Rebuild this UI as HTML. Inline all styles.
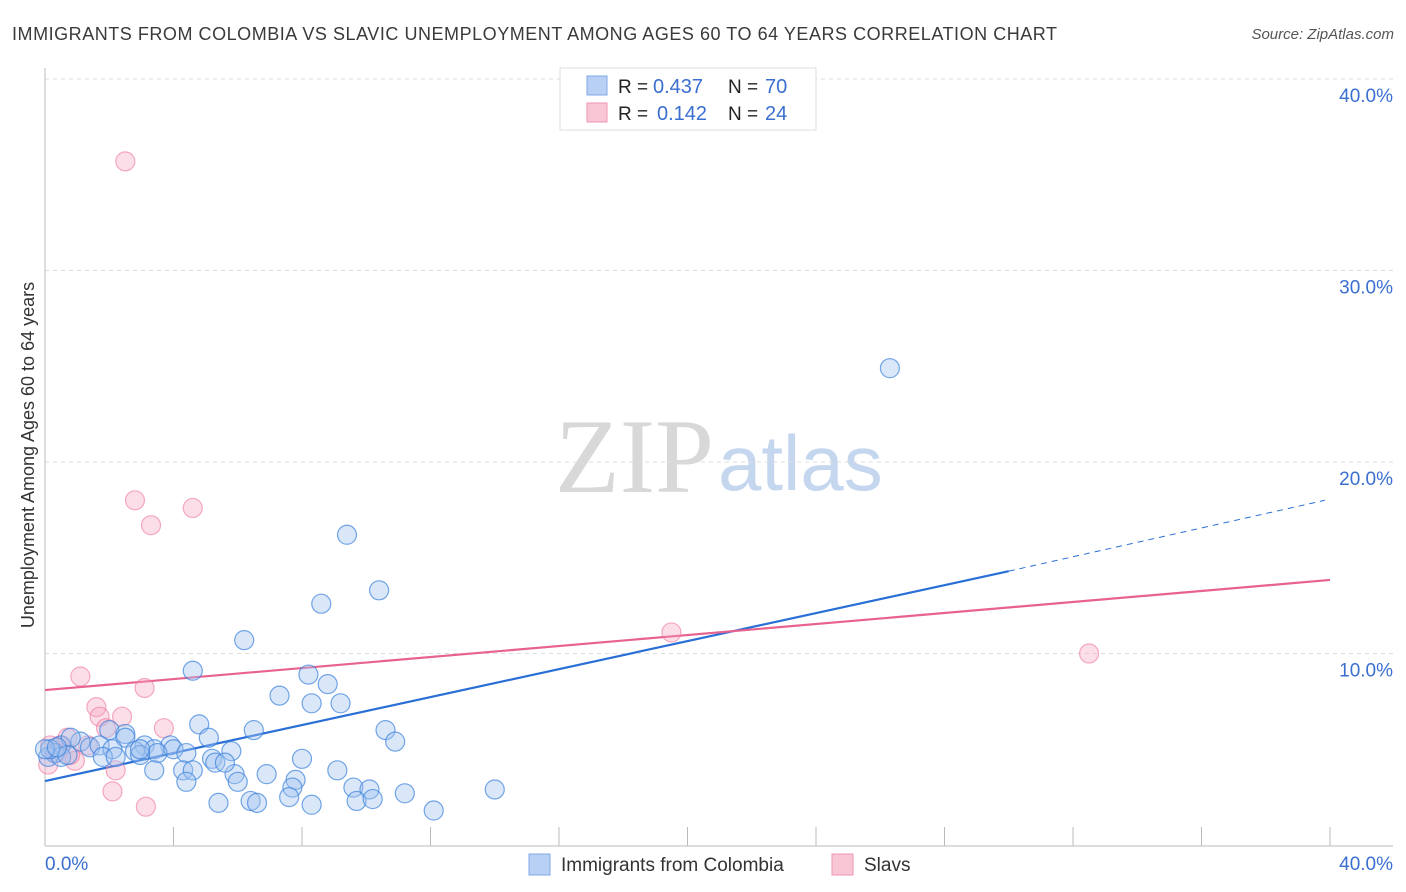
<!DOCTYPE html>
<html><head><meta charset="utf-8">
<style>
body{margin:0;background:#fff;font-family:"Liberation Sans",sans-serif;}
#wrap{position:relative;width:1406px;height:892px;overflow:hidden;}
</style></head>
<body>
<div id="wrap">
<svg id="chart" width="1406" height="892">
<text x="12" y="40" font-size="18" fill="#3a3a3a" textLength="1045">IMMIGRANTS FROM COLOMBIA VS SLAVIC UNEMPLOYMENT AMONG AGES 60 TO 64 YEARS CORRELATION CHART</text>
<text x="1394" y="39" font-size="15" fill="#555" text-anchor="end" font-style="italic">Source: ZipAtlas.com</text>
<text x="714" y="492" font-size="106" fill="#d8d8d8" text-anchor="end" font-family="Liberation Serif,serif">ZIP</text>
<text x="718" y="490" font-size="78" fill="#c5d6ef">atlas</text>
<text transform="translate(34,455) rotate(-90)" font-size="18" fill="#333" text-anchor="middle">Unemployment Among Ages 60 to 64 years</text>
<g id="grid"></g><g id="axes"></g><g id="lines"></g><g id="pts"></g>
<g>
<rect x="560" y="68" width="256" height="62" fill="#fff" stroke="#ddd"/>
<rect x="587" y="76" width="20" height="19" fill="#b7d0f3" stroke="#7fa8e6"/>
<rect x="587" y="103" width="20" height="19" fill="#f9c6d6" stroke="#f096b3"/>
<text x="618" y="93" font-size="19" fill="#222">R =</text>
<text x="653" y="93" font-size="20" fill="#3a6fd0">0.437</text>
<text x="728" y="93" font-size="19" fill="#222">N =</text>
<text x="765" y="93" font-size="20" fill="#3a6fd0">70</text>
<text x="618" y="120" font-size="19" fill="#222">R =</text>
<text x="657" y="120" font-size="20" fill="#3a6fd0">0.142</text>
<text x="728" y="120" font-size="19" fill="#222">N =</text>
<text x="765" y="120" font-size="20" fill="#3a6fd0">24</text>
</g>
<g>
<rect x="529" y="854" width="21" height="21" fill="#b7d0f3" stroke="#7fa8e6"/>
<text x="561" y="871" font-size="19" fill="#333">Immigrants from Colombia</text>
<rect x="832" y="854" width="21" height="21" fill="#f9c6d6" stroke="#f096b3"/>
<text x="864" y="871" font-size="19" fill="#333">Slavs</text>
</g>
</svg>
</div>
<script>
const xTicks=[0,4,8,12,16,20,24,28,32,36,40];
const yTicks=[10,20,30,40];
const blueX=[26.3,9.4,10.4,8.6,6.2,4.6,8.2,8.8,7.3,8.3,9.2,4.8,6.5,10.6,2.0,5.1,10.9,1.1,2.5,3.1,3.9,2.5,5.8,8.0,0.5,0.8,1.4,1.7,2.1,2.8,3.4,4.0,3.5,4.4,0.3,0.1,0.5,0.7,1.8,2.2,2.96,5.2,5.9,6.9,5.3,3.4,4.3,4.6,6.0,4.4,9.1,7.8,7.7,9.6,10.1,11.2,14.0,7.6,6.4,6.6,5.4,8.3,9.7,10.2,12.1,5.6,0.16,2.96,0,0.37];
const blueY=[24.9,16.2,13.3,12.6,10.7,9.1,8.9,8.4,7.8,7.4,7.4,6.3,6.0,6.0,6.0,5.6,5.4,5.4,5.8,5.2,5.2,5.6,4.9,4.5,5.2,5.6,5.1,5.2,5.0,4.9,5.0,5.0,4.8,4.8,4.8,4.6,4.6,4.7,4.6,4.6,4.7,4.5,3.7,3.7,4.3,3.9,3.9,3.9,3.3,3.3,3.9,3.4,3.0,3.0,2.9,2.7,2.9,2.5,2.3,2.2,2.2,2.1,2.3,2.4,1.8,4.3,5.0,5.0,5.0,5.1];
const pinkX=[2.5,2.8,4.6,3.3,19.5,32.5,1.1,3.1,1.6,2.4,1.7,3.7,1.9,0.7,0.16,0.34,0.47,0.93,2.2,2.1,3.14,0.1,1.34,0.78];
const pinkY=[35.7,18.0,17.6,16.7,11.1,10.0,8.8,8.2,7.2,6.7,6.7,6.1,6.1,5.6,5.2,4.8,5.2,4.4,3.9,2.8,2.0,4.2,5.2,4.7];
const blueTrend=[[0,3.34],[30,14.3],[39.84,18.0]];
const pinkTrend=[[0,8.09],[40,13.84]];
const X=v=>45+v*32.125, Y=v=>845-v*19.15;
const NS="http://www.w3.org/2000/svg";
function mk(t,a,p){const e=document.createElementNS(NS,t);for(const k in a)e.setAttribute(k,a[k]);p.appendChild(e);return e;}
const grid=document.getElementById('grid'),axes=document.getElementById('axes'),lines=document.getElementById('lines'),pts=document.getElementById('pts');
yTicks.forEach(v=>{
 const l=mk('line',{x1:45,x2:1393,y1:Y(v),y2:Y(v),stroke:'#ddd','stroke-dasharray':'4,4'},grid);
 
 
 const t=mk('text',{x:1393,y:Y(v)+23,'font-size':19,fill:'#3a6fd0','text-anchor':'end'},axes);t.textContent=v.toFixed(1)+'%';
 
 
});
const topLine=mk('line',{x1:45,x2:1393,y1:79,y2:79,stroke:'#ddd','stroke-dasharray':'4,4'},grid);


const ya=mk('line',{x1:45,x2:45,y1:68,y2:846,stroke:'#bbb'},axes);


const xa=mk('line',{x1:45,x2:1393,y1:846,y2:846,stroke:'#bbb'},axes);


xTicks.forEach(v=>{
 const l=mk('line',{x1:X(v),x2:X(v),y1:827,y2:846,stroke:'#bbb'},axes);
 
 
});
const xl0=mk('text',{x:45,y:870,'font-size':19,fill:'#3a6fd0'},axes);xl0.textContent='0.0%';


const xl1=mk('text',{x:1393,y:870,'font-size':19,fill:'#3a6fd0','text-anchor':'end'},axes);xl1.textContent='40.0%';


pinkX.forEach((v,i)=>{
 const c=mk('circle',{cx:X(v),cy:Y(pinkY[i]),r:9.5,fill:'rgba(246,160,188,0.35)',stroke:'rgba(236,120,155,0.6)','stroke-width':1.2},pts);
 
 
});
blueX.forEach((v,i)=>{
 const c=mk('circle',{cx:X(v),cy:Y(blueY[i]),r:9.5,fill:'rgba(160,196,240,0.4)',stroke:'rgba(60,130,220,0.7)','stroke-width':1.2},pts);
 
 
});
const b1=mk('line',{x1:X(blueTrend[0][0]),y1:Y(blueTrend[0][1]),x2:X(blueTrend[1][0]),y2:Y(blueTrend[1][1]),stroke:'#2a6fd6','stroke-width':2.2},lines);


const b2=mk('line',{x1:X(blueTrend[1][0]),y1:Y(blueTrend[1][1]),x2:X(blueTrend[2][0]),y2:Y(blueTrend[2][1]),stroke:'#2a6fd6','stroke-width':1,'stroke-dasharray':'6,5'},lines);


const p1=mk('line',{x1:X(pinkTrend[0][0]),y1:Y(pinkTrend[0][1]),x2:X(pinkTrend[1][0]),y2:Y(pinkTrend[1][1]),stroke:'#e8628f','stroke-width':2.2},lines);


</script>
</body></html>
